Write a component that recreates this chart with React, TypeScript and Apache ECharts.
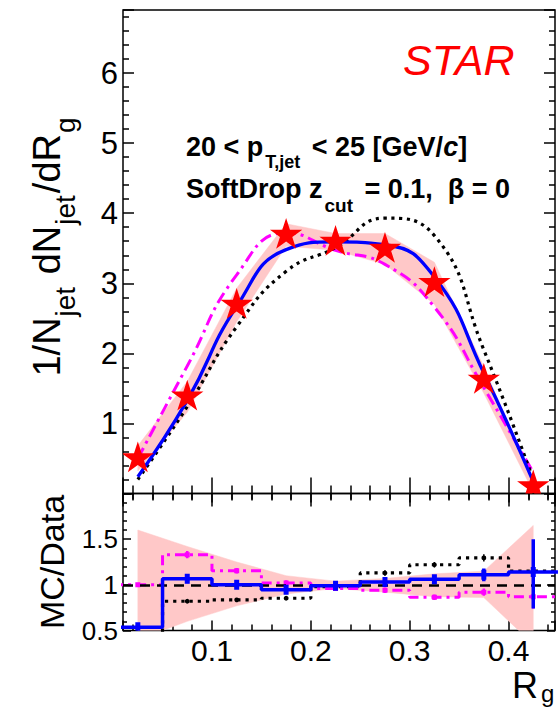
import React, { useEffect, useRef } from 'react';
import * as echarts from 'echarts';

// ---- data ----
const binCenters = [0.025, 0.075, 0.125, 0.175, 0.225, 0.275, 0.325, 0.375, 0.425];
const binEdges = [0.0, 0.05, 0.1, 0.15, 0.2, 0.25, 0.3, 0.35, 0.4, 0.45];

// STAR data points (top panel)
const dataValues = [0.5, 1.38, 2.69, 3.69, 3.59, 3.49, 3.0, 1.62, 0.1];
const dataSysHalf = [0.18, 0.22, 0.24, 0.16, 0.12, 0.22, 0.3, 0.19, 0.08];

// model curves (top panel)
const blueValues = [0.24, 1.33, 2.67, 3.48, 3.59, 3.55, 3.09, 1.72, 0.17];
const magentaValues = [0.5, 1.82, 3.12, 3.72, 3.47, 3.27, 2.66, 1.51, 0.3];
const blackValues = [0.2, 1.24, 2.38, 3.17, 3.51, 3.93, 3.68, 2.05, 0.2];

// ratio panel
const ratioBandUp = [1.6, 1.42, 1.25, 1.1, 1.04, 1.07, 1.12, 1.15, 1.65];
const ratioBandLow = [0.4, 0.6, 0.77, 0.9, 0.96, 0.92, 0.87, 0.86, 0.35];
const ratioBlue = [0.536, 1.066, 1.0, 0.945, 0.99, 1.03, 1.06, 1.11, 1.14];
const ratioBlueErrUp = [0.04, 0.05, 0.04, 0.04, 0.03, 0.04, 0.04, 0.07, 0.36];
const ratioBlueErrDown = [0.04, 0.05, 0.04, 0.04, 0.03, 0.04, 0.04, 0.07, 0.4];
const ratioBlack = [0.4, 0.82, 0.836, 0.853, 0.98, 1.13, 1.22, 1.295, 1.15];
const ratioBlackErr = [0.0, 0.02, 0.02, 0.02, 0.02, 0.03, 0.03, 0.04, 0.12];
const ratioMagenta = [1.0, 1.33, 1.155, 1.02, 0.96, 0.94, 0.865, 0.92, 0.87];
const ratioMagentaErr = [0.02, 0.04, 0.03, 0.03, 0.02, 0.03, 0.03, 0.04, 0.13];

const FONT = '"Liberation Sans", Arial, Helvetica, sans-serif';
const BLUE = '#0000ff';
const MAGENTA = '#ff00ff';
const RED = '#ff0000';
const BAND = '#ffc8c8';

function bandRender(color: string) {
  return (params: any, api: any) => {
    if (params.dataIndex !== 0) return null;
    const upper: number[][] = [];
    const lower: number[][] = [];
    for (let i = 0; i < params.dataInsideLength; i++) {
      upper.push(api.coord([api.value(0, i), api.value(2, i)]));
      lower.push(api.coord([api.value(0, i), api.value(1, i)]));
    }
    return {
      type: 'polygon',
      shape: { points: upper.concat(lower.reverse()) },
      style: { fill: color, stroke: color, lineWidth: 0.5 },
    };
  };
}

function stepData(vals: number[]) {
  return binEdges.map((x, i) => [x, vals[Math.min(i, vals.length - 1)]]);
}

function errSeries(vals: number[], up: number[], down: number[], color: string, width: number, marker: string, z: number) {
  return {
    type: 'custom',
    xAxisIndex: 2,
    yAxisIndex: 2,
    clip: true,
    z,
    silent: true,
    data: binCenters.map((x, i) => [x, vals[i], vals[i] + up[i], vals[i] - down[i]]),
    renderItem: (params: any, api: any) => {
      const c = api.coord([api.value(0), api.value(1)]);
      const hi = api.coord([api.value(0), api.value(2)]);
      const lo = api.coord([api.value(0), api.value(3)]);
      const children: any[] = [
        { type: 'line', shape: { x1: c[0], y1: hi[1], x2: c[0], y2: lo[1] }, style: { stroke: color, lineWidth: width } },
      ];
      if (marker === 'square') {
        children.push({ type: 'rect', shape: { x: c[0] - 2.5, y: c[1] - 2.5, width: 5, height: 5 }, style: { fill: color } });
      } else if (marker === 'dot') {
        children.push({ type: 'circle', shape: { cx: c[0], cy: c[1], r: 2.4 }, style: { fill: color } });
      } else if (marker === 'bar') {
        children.push({ type: 'rect', shape: { x: c[0] - 2.5, y: c[1] - 5, width: 5, height: 10 }, style: { fill: color } });
      }
      return { type: 'group', children };
    },
  };
}

function starRender(params: any, api: any) {
  const c = api.coord([api.value(0), api.value(1)]);
  const R = 17;
  const pts: number[][] = [];
  for (let k = 0; k < 10; k++) {
    const r = k % 2 === 0 ? R : R * 0.382;
    const a = -Math.PI / 2 + (k * Math.PI) / 5;
    pts.push([c[0] + r * Math.cos(a), c[1] + r * Math.sin(a)]);
  }
  return { type: 'polygon', shape: { points: pts }, style: { fill: RED } };
}

const tickStyle = { color: '#000', width: 1.5 };

function xAx(gridIndex: number, position: string, showLabel: boolean, major: number, minor: number) {
  return {
    type: 'value',
    gridIndex,
    position,
    min: 0.01,
    max: 0.447,
    splitNumber: 4,
    axisLine: { show: false },
    splitLine: { show: false },
    axisTick: { show: true, inside: true, length: major, lineStyle: tickStyle },
    minorTick: { show: true, splitNumber: 5, length: minor, lineStyle: tickStyle },
    axisLabel: {
      show: showLabel,
      showMinLabel: false,
      showMaxLabel: false,
      fontSize: 30,
      fontFamily: FONT,
      color: '#000',
      margin: 5,
    },
  };
}

function yAx(gridIndex: number, position: string, showLabel: boolean, min: number, max: number, interval: number, major: number, minor: number, fontSize: number) {
  return {
    type: 'value',
    gridIndex,
    position,
    min,
    max,
    interval,
    axisLine: { show: false },
    splitLine: { show: false },
    axisTick: { show: true, inside: true, length: major, lineStyle: tickStyle },
    minorTick: { show: true, splitNumber: 5, length: minor, lineStyle: tickStyle },
    axisLabel: {
      show: showLabel,
      showMinLabel: gridIndex === 1,
      showMaxLabel: false,
      fontSize,
      fontFamily: FONT,
      color: '#000',
      margin: 5,
    },
  };
}

const mainRich = (size: number, bold: boolean, lh?: number) => ({
  fontSize: size,
  lineHeight: lh || size,
  fontFamily: FONT,
  fontWeight: bold ? 'bold' : 'normal',
  verticalAlign: 'top',
  fill: '#000',
});

const option: any = {
  animation: false,
  backgroundColor: '#fff',
  grid: [
    { left: 123, top: 10, width: 432, height: 483.5, show: true, borderColor: '#000', borderWidth: 1.5, outerBoundsMode: 'none' },
    { left: 123, top: 493.5, width: 432, height: 137, show: true, borderColor: '#000', borderWidth: 1.5, outerBoundsMode: 'none' },
  ],
  xAxis: [
    xAx(0, 'bottom', false, 16, 8),
    xAx(0, 'top', false, 13, 7),
    xAx(1, 'bottom', true, 10, 6),
    xAx(1, 'top', false, 9, 6),
  ],
  yAxis: [
    yAx(0, 'left', true, 0, 6.9, 1, 11, 6, 31),
    yAx(0, 'right', false, 0, 6.9, 1, 11, 6, 31),
    yAx(1, 'left', true, 0.5, 2.0, 0.5, 8, 4, 26),
    yAx(1, 'right', false, 0.5, 2.0, 0.5, 8, 4, 26),
  ],
  series: [
    // top panel
    {
      type: 'custom',
      xAxisIndex: 0,
      yAxisIndex: 0,
      clip: true,
      z: 1,
      silent: true,
      data: binCenters.map((x, i) => [x, dataValues[i] - dataSysHalf[i], dataValues[i] + dataSysHalf[i]]),
      renderItem: bandRender(BAND),
    },
    {
      type: 'line',
      xAxisIndex: 0,
      yAxisIndex: 0,
      smooth: true,
      symbol: 'none',
      z: 3,
      lineStyle: { color: MAGENTA, width: 3, type: [12, 5, 3, 5] },
      data: binCenters.map((x, i) => [x, magentaValues[i]]),
    },
    {
      type: 'line',
      xAxisIndex: 0,
      yAxisIndex: 0,
      smooth: true,
      symbol: 'none',
      z: 3,
      lineStyle: { color: '#000', width: 3.2, type: [3.2, 4.5] },
      data: binCenters.map((x, i) => [x, blackValues[i]]),
    },
    {
      type: 'line',
      xAxisIndex: 0,
      yAxisIndex: 0,
      smooth: true,
      symbol: 'none',
      z: 4,
      lineStyle: { color: BLUE, width: 3.3 },
      data: binCenters.map((x, i) => [x, blueValues[i]]),
    },
    {
      type: 'custom',
      xAxisIndex: 0,
      yAxisIndex: 0,
      clip: true,
      z: 6,
      silent: true,
      data: binCenters.map((x, i) => [x, dataValues[i]]),
      renderItem: starRender,
    },
    // ratio panel
    {
      type: 'custom',
      xAxisIndex: 2,
      yAxisIndex: 2,
      clip: true,
      z: 1,
      silent: true,
      data: binCenters.map((x, i) => [x, ratioBandLow[i], ratioBandUp[i]]),
      renderItem: bandRender(BAND),
    },
    {
      type: 'line',
      xAxisIndex: 2,
      yAxisIndex: 2,
      step: 'end',
      symbol: 'none',
      z: 3,
      lineStyle: { color: '#000', width: 3.2, type: [3.2, 5] },
      data: stepData(ratioBlack),
      markLine: {
        silent: true,
        symbol: 'none',
        label: { show: false },
        lineStyle: { color: '#000', width: 2.5, type: [10, 7] },
        data: [{ yAxis: 1 }],
      },
    },
    errSeries(ratioBlack, ratioBlackErr, ratioBlackErr, '#000', 1.5, 'dot', 3),
    {
      type: 'line',
      xAxisIndex: 2,
      yAxisIndex: 2,
      step: 'end',
      symbol: 'none',
      z: 4,
      lineStyle: { color: MAGENTA, width: 3, type: [10, 5, 3, 5] },
      data: stepData(ratioMagenta),
    },
    errSeries(ratioMagenta, ratioMagentaErr, ratioMagentaErr, MAGENTA, 2.5, 'square', 4),
    {
      type: 'line',
      xAxisIndex: 2,
      yAxisIndex: 2,
      step: 'end',
      symbol: 'none',
      z: 5,
      lineStyle: { color: BLUE, width: 3.5 },
      data: stepData(ratioBlue),
    },
    errSeries(ratioBlue, ratioBlueErrUp, ratioBlueErrDown, BLUE, 3.5, 'bar', 5),
  ],
  graphic: [
    {
      type: 'text',
      x: 403,
      y: 38,
      style: { text: 'STAR', fontSize: 43, fontStyle: 'italic', fontFamily: FONT, fill: RED, verticalAlign: 'top' },
    },
    {
      type: 'text',
      x: 186,
      y: 133,
      style: {
        text: '{m|20 < p}{s|T,jet}{m| < 25 [GeV/}{i|c}{m|]}',
        verticalAlign: 'top',
        rich: {
          m: mainRich(27, true),
          i: { ...mainRich(27, true), fontStyle: 'italic' },
          s: { ...mainRich(18, true), padding: [20, 4, 0, 2] },
        },
      },
    },
    {
      type: 'text',
      x: 186,
      y: 175,
      style: {
        text: '{m|SoftDrop z}{s|cut}{m| = 0.1,  β = 0}',
        verticalAlign: 'top',
        rich: {
          m: mainRich(27, true),
          s: { ...mainRich(19, true), padding: [21, 4, 0, 2] },
        },
      },
    },
    {
      type: 'text',
      x: 47,
      y: 246,
      rotation: Math.PI / 2,
      style: {
        text: '{m|1/N}{s|jet}{m| dN}{s|jet}{m|/dR}{s|g}',
        align: 'center',
        verticalAlign: 'middle',
        rich: {
          m: mainRich(38, false),
          s: { ...mainRich(28, false), padding: [23, 2, 0, 1] },
        },
      },
    },
    {
      type: 'text',
      x: 52,
      y: 562,
      rotation: Math.PI / 2,
      style: { text: 'MC/Data', fontSize: 34, fontFamily: FONT, fill: '#000', align: 'center', verticalAlign: 'middle' },
    },
    {
      type: 'text',
      x: 512,
      y: 667,
      style: {
        text: '{m|R}{s|g}',
        verticalAlign: 'top',
        rich: {
          m: mainRich(36, false, 30),
          s: { ...mainRich(24, false, 20), padding: [14, 0, 0, 3] },
        },
      },
    },
  ],
};

export default function App() {
  const ref = useRef<HTMLDivElement>(null);
  useEffect(() => {
    const chart = echarts.init(ref.current as HTMLDivElement, null, { renderer: 'svg' });
    chart.setOption(option);
    return () => chart.dispose();
  }, []);
  return (
    <div
      ref={ref}
      style={{ position: 'fixed', left: 0, top: 0, width: 558, height: 707, background: '#fff' }}
    />
  );
}
